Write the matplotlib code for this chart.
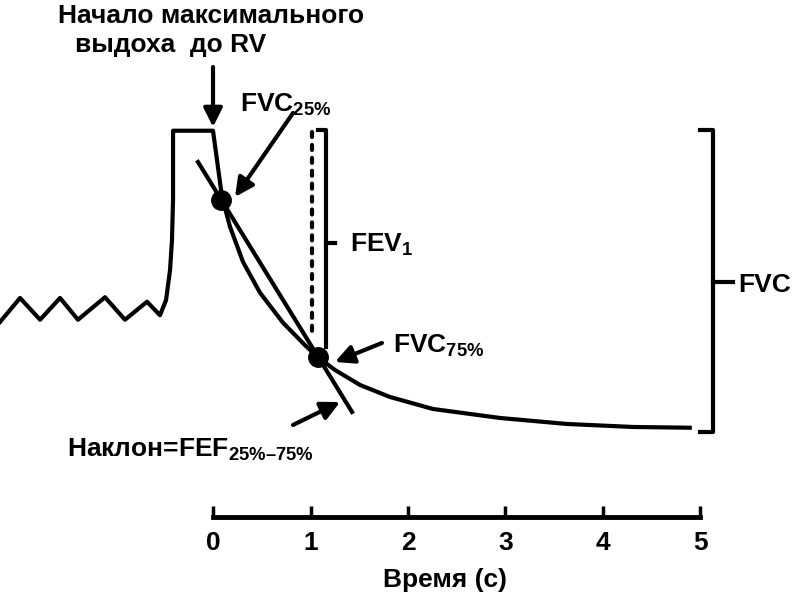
import matplotlib
matplotlib.use('Agg')
import matplotlib.pyplot as plt

plt.rcParams['font.family'] = ['Liberation Sans', 'DejaVu Sans']
plt.rcParams['font.weight'] = 'bold'
plt.rcParams['mathtext.fontset'] = 'custom'
plt.rcParams['mathtext.rm'] = 'Liberation Sans:bold'
plt.rcParams['mathtext.bf'] = 'Liberation Sans:bold'
plt.rcParams['mathtext.it'] = 'Liberation Sans:bold'

# spirogram: time (s) from start of forced expiration, volume (L)
curve_t = [-2.185, -1.979, -1.774, -1.569, -1.385, -1.108, -0.903, -0.677,
           -0.544, -0.482, -0.441, -0.421, -0.410, -0.410, -0.010, 0.0,
           0.092, 0.174, 0.308, 0.482, 0.718, 0.944, 1.077, 1.251, 1.508,
           1.815, 2.256, 2.944, 3.631, 4.308, 4.89]
curve_v = [2.60, 2.92, 2.63, 2.92, 2.63, 2.93, 2.63, 2.87,
           2.69, 2.89, 3.29, 3.69, 4.23, 5.15, 5.15, 5.15,
           4.27, 3.87, 3.40, 2.99, 2.59, 2.29, 2.13, 1.96, 1.76,
           1.60, 1.44, 1.32, 1.24, 1.20, 1.19]

# FVC25% and FVC75% points and the FEF25-75 slope line
points_t = [0.08, 1.077]
points_v = [4.23, 2.13]
slope_t = [-0.154, 1.426]
slope_v = [4.733, 1.40]

# FEV1 marks
fev1_dotted_t = [1.015, 1.015]
fev1_dotted_v = [5.13, 2.45]
fev1_t = [1.08, 1.159, 1.159]
fev1_v = [5.16, 5.16, 2.27]
fev1_tick_t = [1.159, 1.25]
fev1_tick_v = [3.653, 3.653]

# FVC bracket
fvc_t = [4.995, 5.128, 5.128, 4.995]
fvc_v = [5.16, 5.16, 1.133, 1.133]
fvc_tick_t = [5.128, 5.333]
fvc_tick_v = [3.133, 3.133]

time_ticks = [0, 1, 2, 3, 4, 5]

# arrows: (tail, tip)
arrows = [((0.0, 6.0), (0.0, 5.2)),
          ((0.821, 5.387), (0.226, 4.267)),
          ((1.733, 2.32), (1.251, 2.067)),
          ((0.821, 1.227), (1.303, 1.533))]

fig = plt.figure(figsize=(8, 5.97), dpi=100)
ax = fig.add_axes([0, 0, 1, 1])
ax.set_xlim(-2.185, 6.021)
ax.set_ylim(-1.067, 6.893)

lw = 3.0
ax.plot(curve_t, curve_v, color='black', lw=lw, solid_joinstyle='round')
ax.plot(slope_t, slope_v, color='black', lw=lw)
ax.plot(points_t, points_v, 'o', color='black', ms=14)
ax.plot(fev1_dotted_t, fev1_dotted_v, color='black', lw=3,
        dashes=(1.2, 1.9), dash_capstyle='round')
ax.plot(fev1_t, fev1_v, color='black', lw=lw)
ax.plot(fev1_tick_t, fev1_tick_v, color='black', lw=lw)
ax.plot(fvc_t, fvc_v, color='black', lw=lw)
ax.plot(fvc_tick_t, fvc_tick_v, color='black', lw=lw)

for tail, tip in arrows:
    ax.annotate('', xy=tip, xytext=tail,
                arrowprops=dict(arrowstyle='-|>', lw=3, color='black',
                                mutation_scale=28, shrinkA=0, shrinkB=0))

fs = 19
ax.text(-0.021, 6.587, 'Начало максимального', ha='center', va='baseline', fontsize=fs)
ax.text(-0.431, 6.2, 'выдоха  до RV', ha='center', va='baseline', fontsize=fs)
ax.text(0.277, 5.40, r'FVC$_{\mathbf{25\%}}$', ha='left', va='baseline', fontsize=fs)
ax.text(1.405, 3.533, r'FEV$_{\mathbf{1}}$', ha='left', va='baseline', fontsize=fs)
ax.text(1.846, 2.187, r'FVC$_{\mathbf{75\%}}$', ha='left', va='baseline', fontsize=fs)
ax.text(-1.497, 0.80, 'Наклон=FEF$_{\\mathbf{25\\%–75\\%}}$', ha='left', va='baseline', fontsize=fs)
ax.text(5.385, 3.0, 'FVC', ha='left', va='baseline', fontsize=fs)
ax.text(2.38, -0.84, 'Время (с)', ha='center', va='center', fontsize=fs)

# time axis
for side in ['left', 'right', 'top']:
    ax.spines[side].set_visible(False)
ax.spines['bottom'].set_position(('data', 0))
ax.spines['bottom'].set_bounds(0, 5)
ax.spines['bottom'].set_linewidth(3.5)
ax.set_xticks(time_ticks)
ax.set_xticklabels([str(t) for t in time_ticks])
ax.tick_params(axis='x', direction='in', length=8, width=2.5,
               labelsize=fs, pad=10)
ax.set_yticks([])

fig.savefig('out.png', dpi=100)
